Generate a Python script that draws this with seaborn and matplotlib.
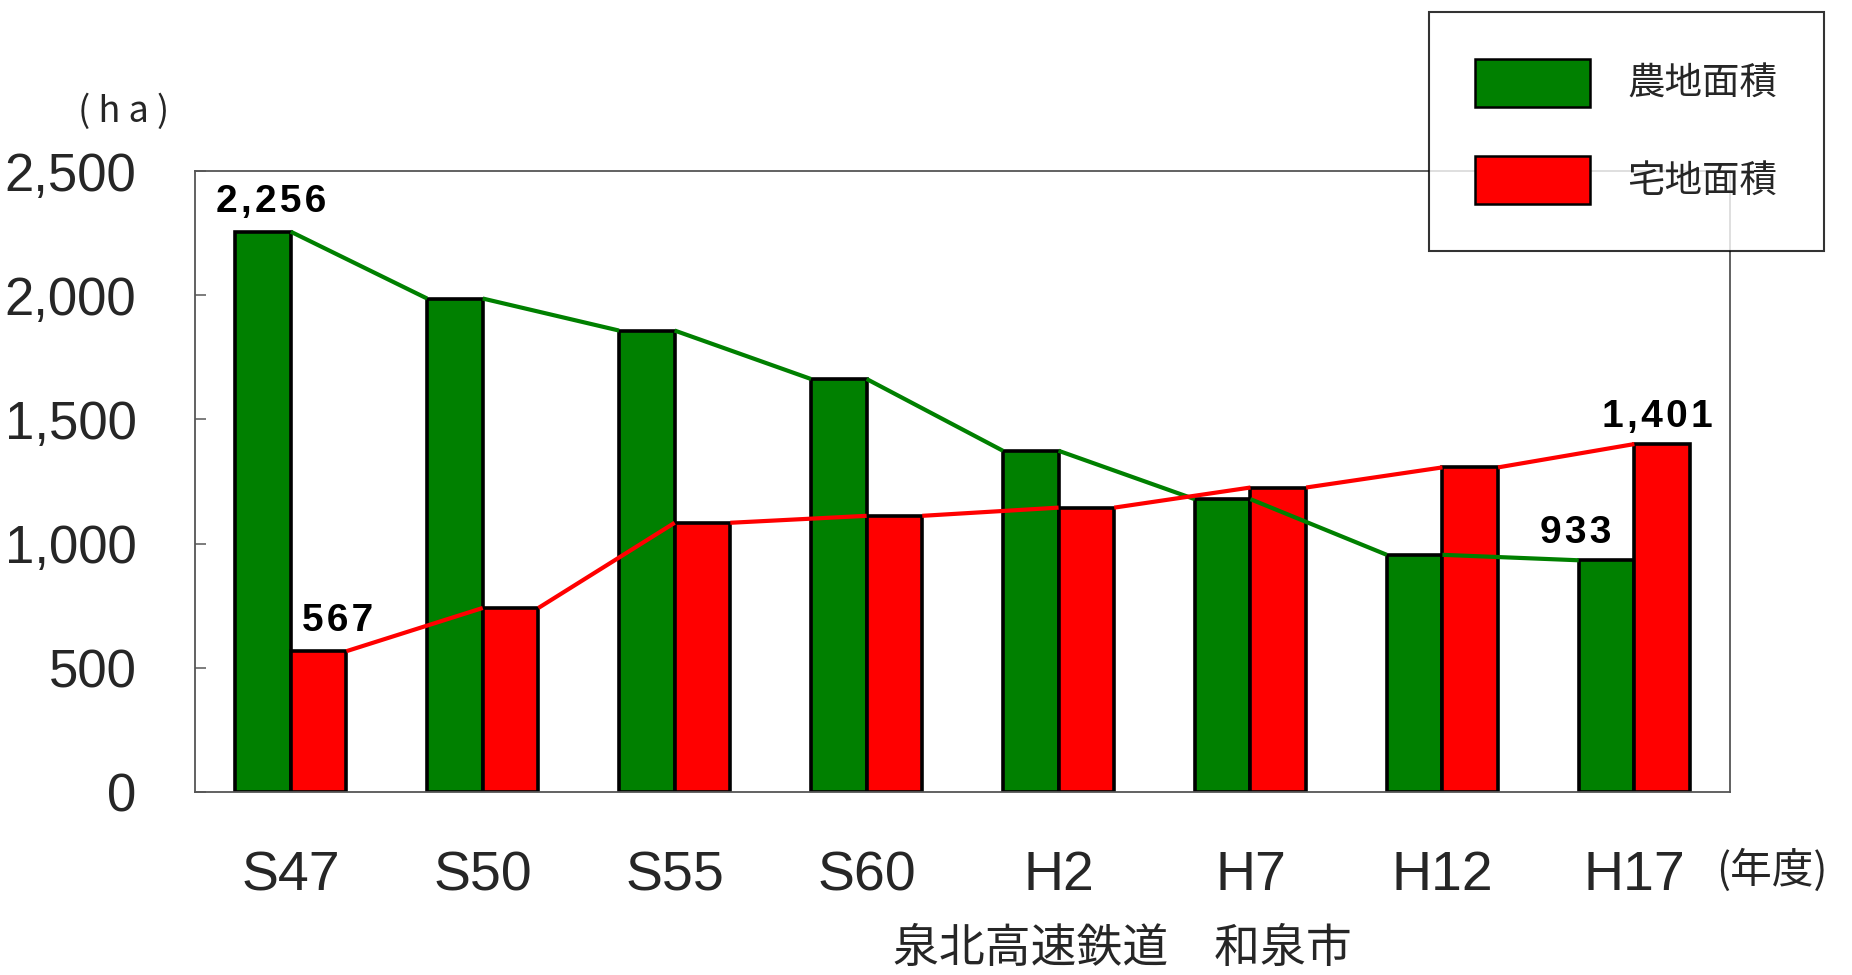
import pandas as pd
import numpy as np
import matplotlib.pyplot as plt
import seaborn as sns

years = ['S47', 'S50', 'S55', 'S60', 'H2', 'H7', 'H12', 'H17']
farm_area = [2256, 1987, 1858, 1663, 1374, 1179, 955, 933]
house_area = [567, 741, 1084, 1112, 1145, 1226, 1307, 1401]
series_names = ['農地面積', '宅地面積']
series_colors = ['#008000', '#FF0000']
yticks = [0, 500, 1000, 1500, 2000, 2500]

df = pd.DataFrame({
    'year': years * 2,
    'area': farm_area + house_area,
    'kind': [series_names[0]] * len(years) + [series_names[1]] * len(years),
})

sns.set_style('white')
plt.rcParams['font.family'] = ['Liberation Sans', 'Noto Sans CJK JP', 'DejaVu Sans']
cjk = ['Noto Sans CJK JP', 'DejaVu Sans']

fig = plt.figure(figsize=(18.52, 9.75), dpi=100)
ax = fig.add_axes([0.1052, 0.1877, 0.8291, 0.6368])

sns.barplot(data=df, x='year', y='area', hue='kind', palette=series_colors,
            width=0.58, saturation=1, edgecolor='black', linewidth=2.6, ax=ax)

# lines joining bar tops (right edge -> next bar's left edge)
for cont, col in zip(ax.containers, series_colors):
    bars = list(cont)
    for a, b in zip(bars[:-1], bars[1:]):
        ax.plot([a.get_x() + a.get_width(), b.get_x()],
                [a.get_height(), b.get_height()],
                color=col, lw=3.0, zorder=5, solid_capstyle='butt')

# value labels on first and last bars (spaced digits like the original)
lab_font = dict(family=['Liberation Sans', 'DejaVu Sans'], fontsize=28,
                color='black', weight='semibold')
g, r = list(ax.containers[0]), list(ax.containers[1])
for bar, dx, dy in [(g[0], 8, 12), (r[0], 19, 12), (g[-1], -31, 9), (r[-1], -5, 9)]:
    v = bar.get_height()
    txt = '\u200a'.join(f'{v:,.0f}')
    ax.annotate(txt, xy=(bar.get_x() + bar.get_width() / 2, v),
                xytext=(dx, dy), textcoords='offset pixels',
                ha='center', va='bottom', **lab_font)

ax.set_ylim(0, 2500)
ax.set_xlim(-0.5, len(years) - 0.5)
ax.set_yticks(yticks)
ax.set_yticklabels([f'{t:,}' for t in yticks])
ax.set_xlabel('')
ax.set_ylabel('')
ax.tick_params(axis='y', direction='in', length=8, width=1.2, color='#666666',
               labelsize=38, pad=42, left=True)
ax.tick_params(axis='x', length=0, labelsize=40, pad=42)
for s in ax.spines.values():
    s.set_color('#555555')
    s.set_linewidth(1.3)

handles, labels = ax.get_legend_handles_labels()
if ax.get_legend() is not None:
    ax.get_legend().remove()
leg = fig.legend(handles, labels, loc='upper right', bbox_to_anchor=(0.985, 0.988),
                 prop={'family': cjk, 'size': 27}, frameon=True, fancybox=False,
                 edgecolor='black', handlelength=3.05, handleheight=1.6,
                 labelspacing=1.3, handletextpad=1.0, borderpad=1.25, borderaxespad=0)
leg.get_frame().set_linewidth(1.5)
for h in leg.legend_handles:
    h.set_edgecolor('black')
    h.set_linewidth(1.8)

fig.text(0.067, 0.885, '( h a )', ha='center', va='center', fontsize=26, family=cjk)
fig.text(0.957, 0.107, '(年度)', ha='center', va='center', fontsize=30, family=cjk)
fig.text(0.606, 0.027, '泉北高速鉄道　和泉市', ha='center', va='center', fontsize=33, family=cjk)

plt.savefig('out.png', dpi=100)
